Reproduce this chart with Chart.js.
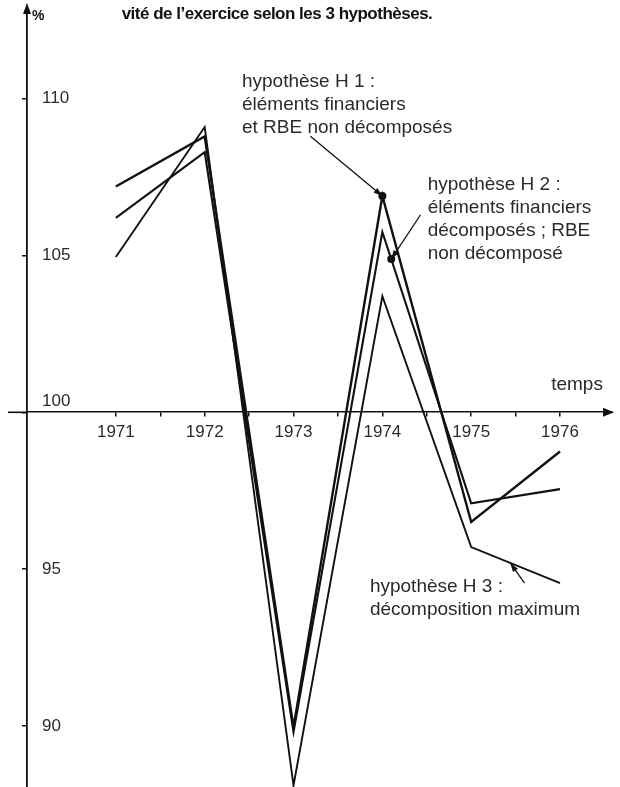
<!DOCTYPE html>
<html>
<head>
<meta charset="utf-8">
<script src="https://cdn.jsdelivr.net/npm/chart.js@4.4.0/dist/chart.umd.min.js"></script>
<style>
  html, body { margin: 0; padding: 0; background: #fff; }
  #wrap { width: 620px; height: 787px; }
</style>
</head>
<body>
<div id="wrap"><canvas id="chart" width="620" height="787"></canvas></div>
<script>
// ---- valeurs (%) ----
const years = [1971, 1972, 1973, 1974, 1975, 1976];
const h1 = [107.2, 108.8, 89.95, 106.9, 96.5, 98.75];
const h2 = [106.2, 108.3, 89.8, 105.75, 97.1, 97.55];
const h3 = [104.95, 109.1, 88.1, 103.7, 95.7, 94.55];

const xTicks = [1971, 1971.5, 1972, 1972.5, 1973, 1973.5, 1974, 1974.5, 1975, 1975.5, 1976];
const yTicks = [90, 95, 100, 105, 110];

const titleText = 'vité de l\u2019exercice selon les 3 hypothèses.';
const noteH1 = ['hypothèse H 1 :', 'éléments financiers', 'et RBE non décomposés'];
const noteH2 = ['hypothèse H 2 :', 'éléments financiers', 'décomposés ; RBE', 'non décomposé'];
const noteH3 = ['hypothèse H 3 :', 'décomposition maximum'];

const ink = '#111';
const textInk = '#2b2b2b';

// textes et flèches, placés en coordonnées du graphique
const notes = [
  { lines: noteH1, x: 1972.42, y: 110.55, tail: [1973.19, 108.8], ds: 0, seg: 3, t: 0, dot: true },
  { lines: noteH2, x: 1974.51, y: 107.25, tail: [1974.43, 106.3], ds: 1, seg: 3, t: 0.1, dot: true },
  { lines: noteH3, x: 1973.86, y: 94.45, tail: [1975.6, 94.55], ds: 2, seg: 4, t: 0.44, dot: false }
];

function pointOn(chart, ds, seg, t) {
  const pts = chart.getDatasetMeta(ds).data;
  const a = pts[seg], b = pts[seg + 1];
  return [a.x + (b.x - a.x) * t, a.y + (b.y - a.y) * t];
}

function arrowHead(ctx, x1, y1, x2, y2, len, half) {
  const ang = Math.atan2(y2 - y1, x2 - x1);
  ctx.beginPath();
  ctx.moveTo(x2, y2);
  ctx.lineTo(x2 - len * Math.cos(ang) + half * Math.sin(ang), y2 - len * Math.sin(ang) - half * Math.cos(ang));
  ctx.lineTo(x2 - len * Math.cos(ang) - half * Math.sin(ang), y2 - len * Math.sin(ang) + half * Math.cos(ang));
  ctx.closePath();
  ctx.fill();
}

const extras = {
  id: 'extras',
  afterDraw(chart) {
    const { ctx, chartArea, scales: { x, y } } = chart;
    const y0 = y.getPixelForValue(100);
    const x0 = chartArea.left;
    ctx.save();
    ctx.strokeStyle = ink;
    ctx.fillStyle = ink;

    // titre (coupé en haut dans l'original)
    ctx.font = 'bold 17px "Liberation Sans", Arial, sans-serif';
    ctx.letterSpacing = '-0.5px';
    ctx.textAlign = 'center';
    ctx.textBaseline = 'alphabetic';
    ctx.fillText(titleText, 277, 19);
    ctx.letterSpacing = '0px';

    // flèche de l'axe vertical + %
    arrowHead(ctx, x0, 20, x0, 3, 11, 4);
    ctx.font = 'bold 14px "Liberation Sans", Arial, sans-serif';
    ctx.textAlign = 'left';
    ctx.fillText('%', x0 + 5, 20);

    // axe horizontal prolongé à gauche + flèche
    ctx.lineWidth = 1.6;
    ctx.beginPath();
    ctx.moveTo(8, y0);
    ctx.lineTo(x0, y0);
    ctx.stroke();
    arrowHead(ctx, chartArea.right - 10, y0, chartArea.right + 2, y0, 11, 4.5);

    ctx.fillStyle = textInk;
    ctx.font = '17px "Liberation Sans", Arial, sans-serif';
    ctx.textBaseline = 'middle';
    ctx.fillText('100', x0 + 15, y0 - 11);
    ctx.font = '19px "Liberation Sans", Arial, sans-serif';
    ctx.fillText('temps', x.getPixelForValue(1975.9), y.getPixelForValue(100.87));

    // annotations
    notes.forEach(n => {
      const px = x.getPixelForValue(n.x);
      const py = y.getPixelForValue(n.y);
      ctx.fillStyle = textInk;
      ctx.font = '19px "Liberation Sans", Arial, sans-serif';
      n.lines.forEach((s, i) => ctx.fillText(s, px, py + i * 23));

      const tx = x.getPixelForValue(n.tail[0]);
      const ty = y.getPixelForValue(n.tail[1]);
      const [hx, hy] = pointOn(chart, n.ds, n.seg, n.t);
      ctx.strokeStyle = ink;
      ctx.fillStyle = ink;
      ctx.lineWidth = 1.3;
      ctx.beginPath();
      ctx.moveTo(tx, ty);
      ctx.lineTo(hx, hy);
      ctx.stroke();
      arrowHead(ctx, tx, ty, hx, hy, 9, 3);
      if (n.dot) {
        ctx.beginPath();
        ctx.arc(hx, hy, 4, 0, Math.PI * 2);
        ctx.fill();
      }
    });
    ctx.restore();
  }
};

const tickFont = { family: '"Liberation Sans", Arial, sans-serif', size: 17 };

new Chart(document.getElementById('chart'), {
  type: 'line',
  data: {
    datasets: [
      { label: 'H 1', data: years.map((v, i) => ({ x: v, y: h1[i] })), borderColor: ink, borderWidth: 2.4 },
      { label: 'H 2', data: years.map((v, i) => ({ x: v, y: h2[i] })), borderColor: ink, borderWidth: 2.1 },
      { label: 'H 3', data: years.map((v, i) => ({ x: v, y: h3[i] })), borderColor: ink, borderWidth: 1.9 }
    ]
  },
  options: {
    responsive: false,
    animation: false,
    layout: { padding: { left: 22, right: 8, top: 10, bottom: 0 } },
    elements: {
      point: { radius: 0, hoverRadius: 0 },
      line: { tension: 0, fill: false, borderJoinStyle: 'miter' }
    },
    plugins: { legend: { display: false }, tooltip: { enabled: false } },
    scales: {
      x: {
        type: 'linear',
        min: 1970,
        max: 1976.585,
        position: { y: 100 },
        afterBuildTicks: s => { s.ticks = xTicks.map(v => ({ value: v })); },
        afterFit: s => { s.paddingLeft = 0; s.paddingRight = 0; },
        ticks: {
          autoSkip: false,
          maxRotation: 0,
          padding: 6,
          color: textInk,
          font: tickFont,
          callback: v => Number.isInteger(v) ? String(v) : ''
        },
        grid: { drawOnChartArea: false, tickLength: 4, color: ink, lineWidth: 1.5 },
        border: { color: ink, width: 1.6 }
      },
      y: {
        type: 'linear',
        min: 88.05,
        max: 112.83,
        position: 'left',
        afterBuildTicks: s => { s.ticks = yTicks.map(v => ({ value: v })); },
        afterFit: s => { s.width = 5; s.paddingTop = 0; s.paddingBottom = 0; },
        ticks: {
          mirror: true,
          padding: 15,
          color: textInk,
          font: tickFont,
          callback: v => v === 100 ? '' : String(v)
        },
        grid: { drawOnChartArea: false, tickLength: 5, color: ink, lineWidth: 1.5 },
        border: { color: ink, width: 1.8 }
      }
    }
  },
  plugins: [extras]
});
</script>
</body>
</html>
